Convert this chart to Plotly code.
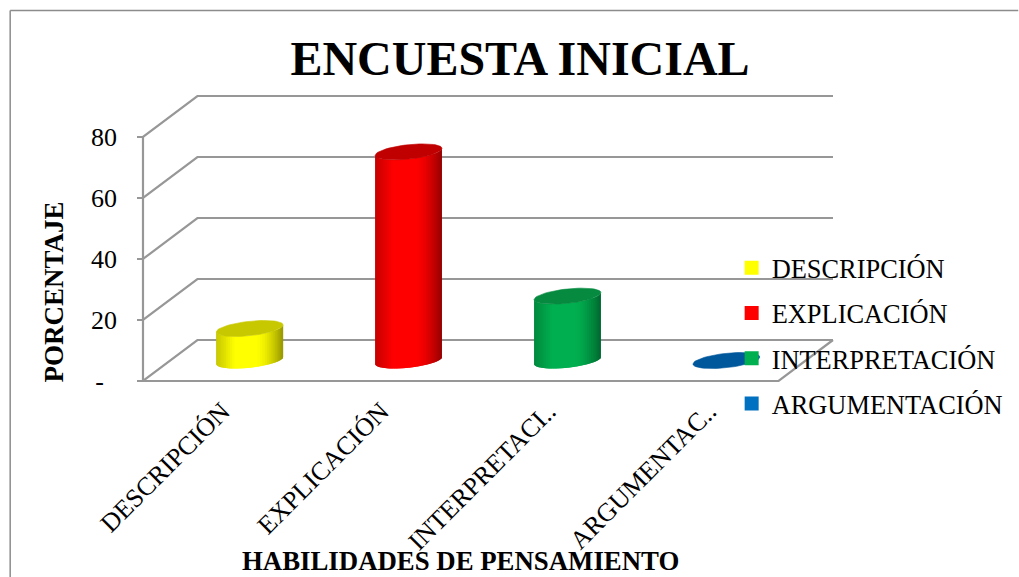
import math
import plotly.graph_objects as go

categories = ["DESCRIPCIÓN", "EXPLICACIÓN", "INTERPRETACIÓN", "ARGUMENTACIÓN"]
tick_labels = ["DESCRIPCIÓN", "EXPLICACIÓN", "INTERPRETACI..", "ARGUMENTAC.."]
values = [10.5, 68.4, 21.1, 0.0]
y_ticks = [0, 20, 40, 60, 80]
y_tick_labels = ["-\u00a0\u00a0", "20", "40", "60", "80"]
side_colors = [(255, 255, 0), (255, 0, 0), (0, 176, 80), (0, 112, 192)]
top_colors = ["#C8C800", "#C00000", "#058A40", "#00589C"]
legend_colors = ["#FFFF00", "#FF0000", "#00B050", "#0070C0"]

FONT = "Liberation Serif"
GRID = "#979797"
W, H = 1019, 577
FRONT_L, FRONT_R, FRONT_T, FRONT_B = 142.5, 779.0, 137.0, 381.0
DEPTH_PX_X, DEPTH_PX_Y = 54.5, 41.0
PAD_L, PAD_R, PAD_T, PAD_B = 8.0, 3.0, 3.0, 3.0
L, R = FRONT_L - PAD_L, FRONT_R + DEPTH_PX_X + PAD_R
T, B = FRONT_T - DEPTH_PX_Y - PAD_T, FRONT_B + PAD_B
PX_X = (FRONT_R - FRONT_L) / 4
PX_Y = (FRONT_B - FRONT_T) / 80
DX = DEPTH_PX_X / PX_X
DY = DEPTH_PX_Y / PX_Y
TICK = 6 / PX_X
HALF_W, TILT, MINOR = 33.5, 3.5, 7.2
N = 40
LABEL_NUDGE = [0, 0, 0.05, 0.06]


def paper_x(px):
    return (px - L) / (R - L)


def paper_y(px):
    return (B - px) / (B - T)


def ellipse_pt(cx, cy, theta):
    return (cx + HALF_W * math.cos(theta) / PX_X,
            cy + (TILT * math.cos(theta) + MINOR * math.sin(theta)) / PX_Y)


def shade(rgb, u):
    if u < -0.45:
        f = 0.78 + 0.22 * (u + 1) / 0.55
    elif u <= 0.2:
        f = 1.0
    else:
        f = 1.0 - 0.42 * ((u - 0.2) / 0.8) ** 1.6
    return "rgb(%d,%d,%d)" % tuple(int(c * f) for c in rgb)


fig = go.Figure()

# legend entries
for name, col in zip(categories, legend_colors):
    fig.add_trace(go.Scatter(x=[None], y=[None], mode="markers", name=name, legendgroup=name,
                             marker=dict(symbol="square", size=14, color=col), hoverinfo="skip"))

# walls: grid with tick stubs, axis lines
for t in y_ticks:
    fig.add_trace(go.Scatter(x=[-0.5 - TICK, -0.5, -0.5 + DX, 3.5 + DX], y=[t, t, t + DY, t + DY],
                             mode="lines", line=dict(color=GRID, width=2.2), showlegend=False,
                             hoverinfo="skip"))
fig.add_trace(go.Scatter(x=[-0.5, 3.5, 3.5 + DX], y=[0, 0, DY], mode="lines",
                         line=dict(color=GRID, width=2.2), showlegend=False, hoverinfo="skip"))
fig.add_trace(go.Scatter(x=[-0.5, -0.5], y=[0, 80], mode="lines",
                         line=dict(color=GRID, width=2.2), showlegend=False, hoverinfo="skip"))

# cylinders
for i, (v, rgb, top) in enumerate(zip(values, side_colors, top_colors)):
    cx, base = i + DX / 2, DY / 2
    if v > 0:
        for k in range(N):
            a0 = math.pi + math.pi * k / N
            a1 = math.pi + math.pi * min(k + 2, N) / N
            b0, b1 = ellipse_pt(cx, base, a0), ellipse_pt(cx, base, a1)
            bm = ellipse_pt(cx, base, (a0 + a1) / 2)
            t1, t0 = ellipse_pt(cx, base + v, a1), ellipse_pt(cx, base + v, a0)
            tm = ellipse_pt(cx, base + v, (a0 + a1) / 2)
            u = math.cos(math.pi + math.pi * (k + 0.5) / N)
            col = shade(rgb, u)
            fig.add_trace(go.Scatter(x=[b0[0], bm[0], b1[0], t1[0], tm[0], t0[0], b0[0]],
                                     y=[b0[1], bm[1], b1[1], t1[1], tm[1], t0[1], b0[1]],
                                     mode="lines", fill="toself", fillcolor=col,
                                     line=dict(color=col, width=0), showlegend=False,
                                     hoverinfo="skip"))
    pts = [ellipse_pt(cx, base + v, 2 * math.pi * k / 60) for k in range(61)]
    fig.add_trace(go.Scatter(x=[p[0] for p in pts], y=[p[1] for p in pts], mode="lines",
                             fill="toself", fillcolor=top, line=dict(color=top, width=0.6),
                             showlegend=False, name=categories[i],
                             hovertemplate="%{fullData.name}: " + str(v) + "<extra></extra>"))

fig.update_layout(
    width=W, height=H,
    margin=dict(l=L, r=W - R, t=T, b=H - B, autoexpand=False),
    paper_bgcolor="white", plot_bgcolor="rgba(0,0,0,0)",
    font=dict(family=FONT, color="black"),
    title=dict(text="<b>ENCUESTA INICIAL</b>", font=dict(size=48, family=FONT, color="black"),
               x=520 / W, xanchor="center", y=1 - 58 / H, yanchor="middle"),
    xaxis=dict(range=[-0.5 - PAD_L / PX_X, 3.5 + DX + PAD_R / PX_X], tickmode="array",
               tickvals=[i + n for i, n in enumerate(LABEL_NUDGE)], ticktext=tick_labels,
               tickangle=-45, tickfont=dict(size=26, family=FONT), showgrid=False, zeroline=False,
               showline=False, ticks="", automargin=False, ticklabelstandoff=6),
    yaxis=dict(range=[-PAD_B / PX_Y, 80 + DY + PAD_T / PX_Y], tickmode="array", tickvals=y_ticks,
               ticktext=y_tick_labels, tickfont=dict(size=26, family=FONT), showgrid=False,
               zeroline=False, showline=False, ticks="", ticklabelstandoff=17, automargin=False),
    legend=dict(x=paper_x(732), xanchor="left", y=paper_y(244), yanchor="top",
                bgcolor="rgba(0,0,0,0)", font=dict(size=26.4, family=FONT, color="black"),
                tracegroupgap=8, itemclick=False, itemdoubleclick=False),
    annotations=[
        dict(text="<b>PORCENTAJE</b>", xref="paper", yref="paper", x=paper_x(53), xanchor="center",
             y=paper_y(292), yanchor="middle", textangle=-90, showarrow=False,
             font=dict(size=27, family=FONT, color="black")),
        dict(text="<b>HABILIDADES DE PENSAMIENTO</b>", xref="paper", yref="paper", x=paper_x(460.5),
             xanchor="center", y=paper_y(561), yanchor="middle", showarrow=False,
             font=dict(size=26.8, family=FONT, color="black")),
    ],
    shapes=[dict(type="line", xref="paper", yref="paper", x0=paper_x(9.5), x1=paper_x(W),
                 y0=paper_y(10.5), y1=paper_y(10.5), line=dict(color="#8C8C8C", width=1.5)),
            dict(type="line", xref="paper", yref="paper", x0=paper_x(9.5), x1=paper_x(9.5),
                 y0=paper_y(10.5), y1=paper_y(H), line=dict(color="#8C8C8C", width=1.5))],
)

fig.write_html("out.html", config=dict(displayModeBar=False),
               post_script="document.body.style.margin='0';document.body.style.overflow='hidden';")
